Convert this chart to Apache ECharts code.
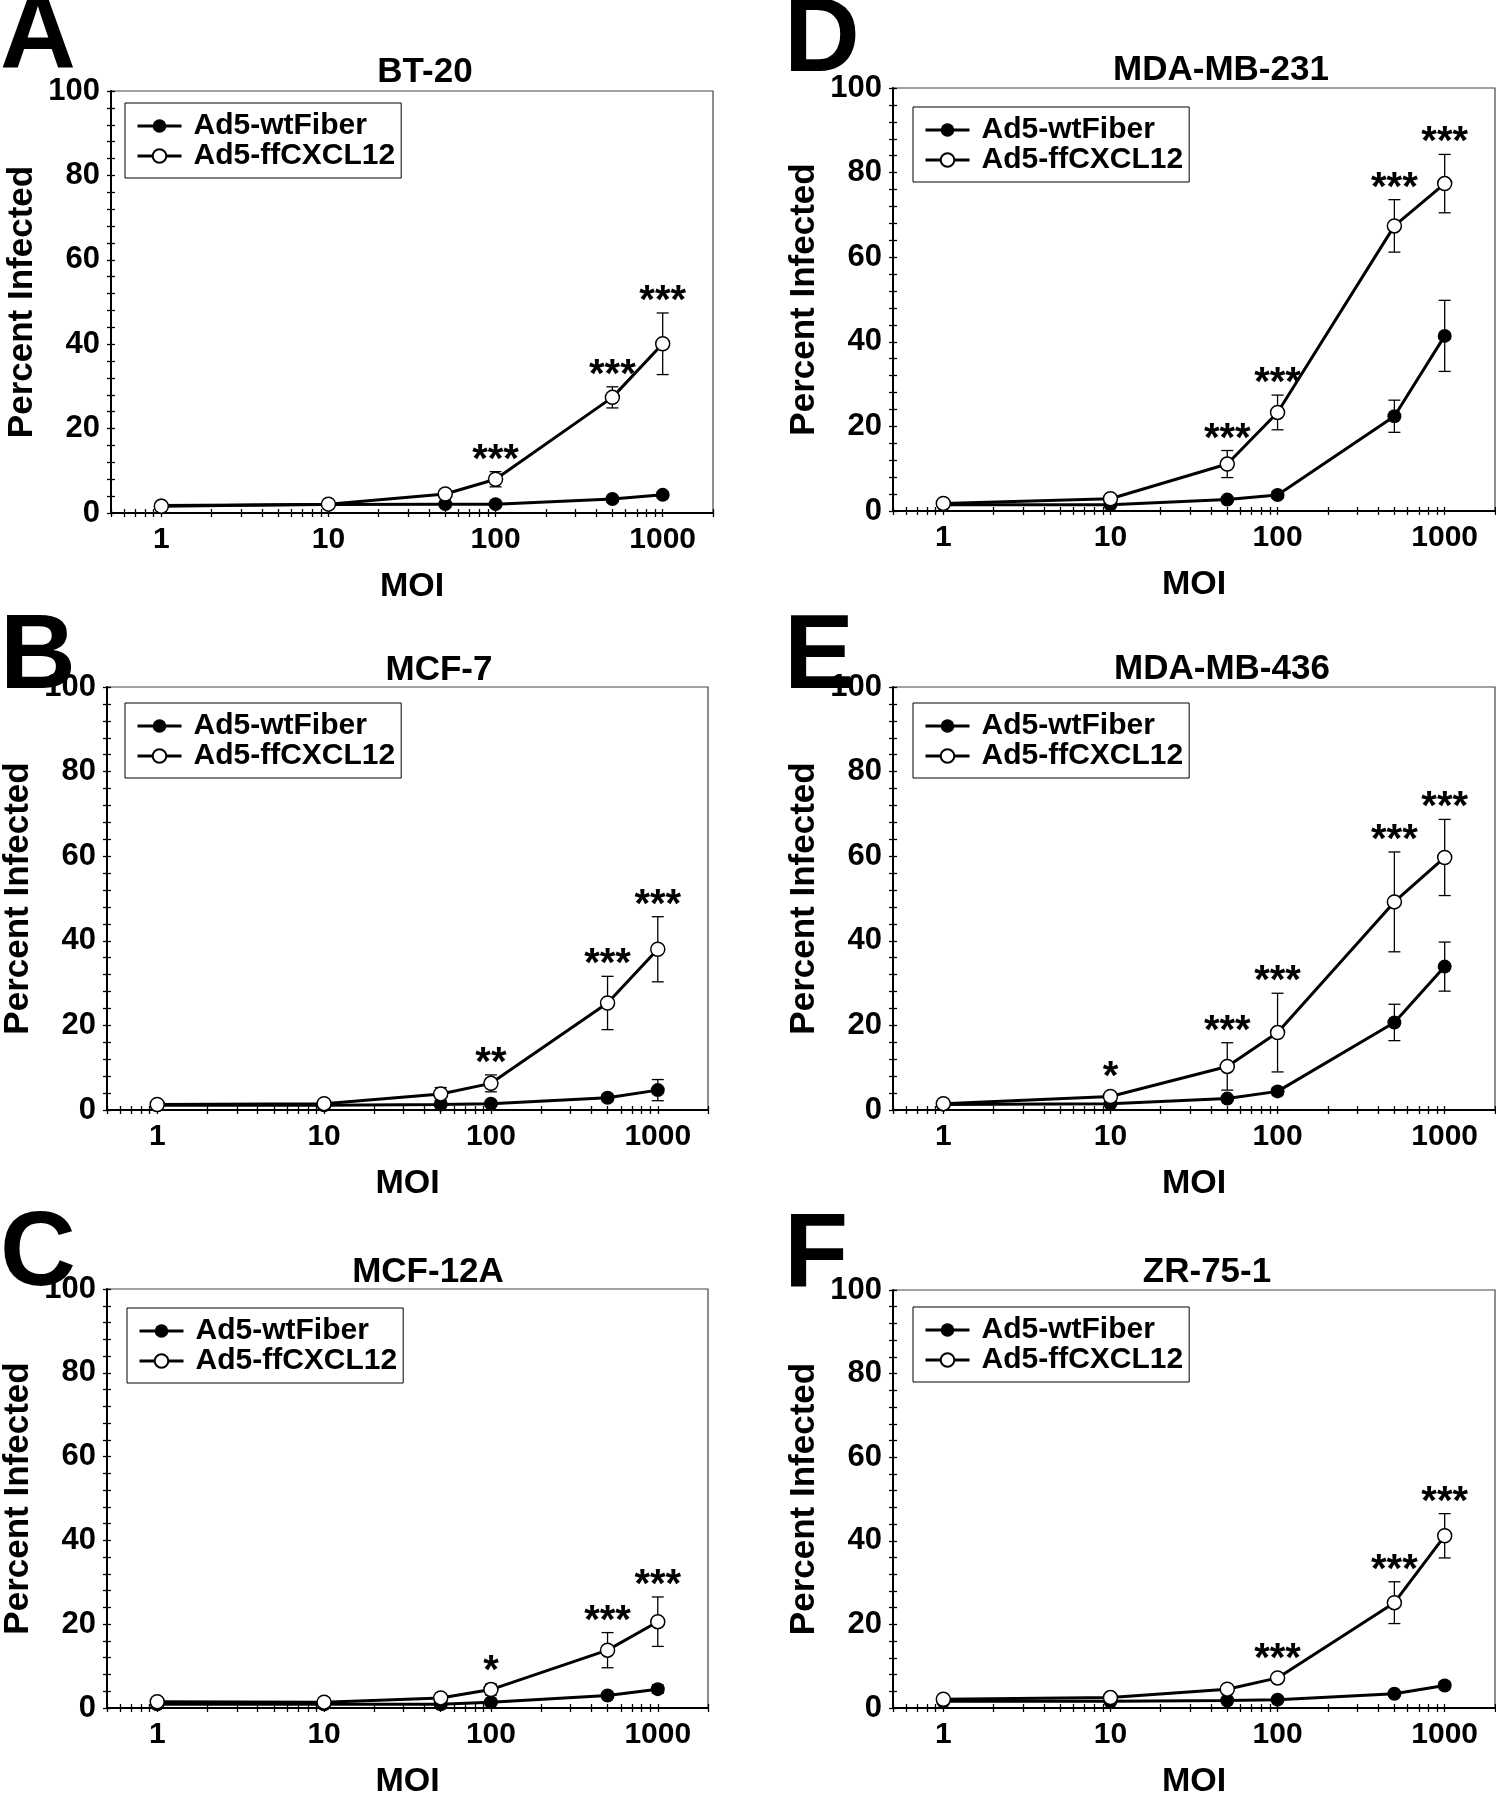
<!DOCTYPE html>
<html><head><meta charset="utf-8">
<script src="https://cdn.jsdelivr.net/npm/echarts@6/dist/echarts.min.js"></script>
<style>html,body{margin:0;padding:0;background:#fff}#c{width:1496px;height:1800px}</style>
</head><body><div id="c"></div>
<script>
// ---------- DATA ----------
const moi = [1, 10, 50, 100, 500, 1000];
const xTickValues = [0.5, 0.6, 0.7, 0.8, 0.9, 1, 2, 3, 4, 5, 6, 7, 8, 9, 10, 20, 30, 40, 50, 60, 70, 80, 90,
  100, 200, 300, 400, 500, 600, 700, 800, 900, 1000, 2000];
const xLabelValues = [1, 10, 100, 1000];
const panelLetters = ['A', 'B', 'C', 'D', 'E', 'F'];
const panelTitles = ['BT-20', 'MCF-7', 'MCF-12A', 'MDA-MB-231', 'MDA-MB-436', 'ZR-75-1'];
const seriesNames = ['Ad5-wtFiber', 'Ad5-ffCXCL12'];

// A: BT-20
const wtA = [1.8, 2.0, 2.1, 2.1, 3.3, 4.3];
const wtErrA = [0.3, 0.3, 0.4, 0.4, 0.6, 0.7];
const ffA = [1.6, 2.1, 4.5, 8.0, 27.4, 40.1];
const ffErrA = [0.3, 0.4, 0.8, 1.8, 2.5, 7.3];
const starsA = ['', '', '', '***', '***', '***'];
// B: MCF-7
const wtB = [1.1, 1.1, 1.3, 1.5, 2.9, 4.7];
const wtErrB = [0.3, 0.3, 0.3, 0.5, 0.8, 2.5];
const ffB = [1.3, 1.5, 3.8, 6.3, 25.3, 38.0];
const ffErrB = [0.3, 0.3, 1.5, 2.0, 6.3, 7.7];
const starsB = ['', '', '', '**', '***', '***'];
// C: MCF-12A
const wtC = [0.9, 0.9, 0.9, 1.4, 3.0, 4.5];
const wtErrC = [0.3, 0.3, 0.3, 0.5, 0.6, 1.0];
const ffC = [1.5, 1.4, 2.4, 4.4, 13.8, 20.6];
const ffErrC = [0.3, 0.3, 0.5, 1.3, 4.2, 5.9];
const starsC = ['', '', '', '*', '***', '***'];
// D: MDA-MB-231
const wtD = [1.5, 1.5, 2.7, 3.8, 22.4, 41.4];
const wtErrD = [0.3, 0.3, 0.5, 0.8, 3.8, 8.4];
const ffD = [1.8, 2.9, 11.1, 23.3, 67.4, 77.4];
const ffErrD = [0.3, 0.5, 3.2, 4.1, 6.2, 6.9];
const starsD = ['', '', '***', '***', '***', '***'];
// E: MDA-MB-436
const wtE = [1.3, 1.5, 2.7, 4.4, 20.7, 33.9];
const wtErrE = [0.3, 0.3, 0.5, 0.8, 4.3, 5.8];
const ffE = [1.5, 3.2, 10.3, 18.3, 49.2, 59.7];
const ffErrE = [0.3, 0.6, 5.6, 9.3, 11.8, 9.0];
const starsE = ['', '*', '***', '***', '***', '***'];
// F: ZR-75-1
const wtF = [1.6, 1.6, 1.8, 2.0, 3.4, 5.4];
const wtErrF = [0.3, 0.3, 0.3, 0.4, 0.6, 0.8];
const ffF = [2.1, 2.5, 4.5, 7.2, 25.2, 41.2];
const ffErrF = [0.3, 0.4, 0.6, 0.8, 5.0, 5.3];
const starsF = ['', '', '', '***', '***', '***'];

const panels = [
  { wt: wtA, wtErr: wtErrA, ff: ffA, ffErr: ffErrA, stars: starsA },
  { wt: wtB, wtErr: wtErrB, ff: ffB, ffErr: ffErrB, stars: starsB },
  { wt: wtC, wtErr: wtErrC, ff: ffC, ffErr: ffErrC, stars: starsC },
  { wt: wtD, wtErr: wtErrD, ff: ffD, ffErr: ffErrD, stars: starsD },
  { wt: wtE, wtErr: wtErrE, ff: ffE, ffErr: ffErrE, stars: starsE },
  { wt: wtF, wtErr: wtErrF, ff: ffF, ffErr: ffErrF, stars: starsF }
];

// ---------- LAYOUT ----------
const FONT = '"Liberation Sans", Arial, Helvetica, sans-serif';
const layout = {
  grids: [
    { left: 111, top: 91, width: 602, height: 422 },
    { left: 106, top: 687, width: 602, height: 423 },
    { left: 106, top: 1289, width: 602, height: 422 },
    { left: 893, top: 88, width: 602, height: 423 },
    { left: 893, top: 687, width: 602, height: 423 },
    { left: 893, top: 1290, width: 602, height: 423 }
  ],
  titles: [[425, 72], [439, 670], [428, 1272], [1221, 70], [1222, 669], [1207, 1272]],
  letters: [[0, 0], [0, 620], [0, 1217], [784, 3], [784, 620], [784, 1219]],
  legends: [[125, 103], [125, 703], [127, 1308], [913, 107], [913, 703], [913, 1307]]
};
const STAR_GAP = 11;

const option = {
  animation: false,
  backgroundColor: '#fff',
  textStyle: { fontFamily: FONT },
  title: [], legend: [], grid: [], xAxis: [], yAxis: [], series: []
};

function errRender(params, api) {
  const x = api.value(0), lo = api.value(1), hi = api.value(2);
  const pLo = api.coord([x, lo]);
  const pHi = api.coord([x, hi]);
  const hw = 6;
  const st = { stroke: '#000', lineWidth: 1.3 };
  return {
    type: 'group', children: [
      { type: 'line', shape: { x1: pHi[0], y1: pHi[1], x2: pLo[0], y2: pLo[1] }, style: st },
      { type: 'line', shape: { x1: pHi[0] - hw, y1: pHi[1], x2: pHi[0] + hw, y2: pHi[1] }, style: st },
      { type: 'line', shape: { x1: pLo[0] - hw, y1: pLo[1], x2: pLo[0] + hw, y2: pLo[1] }, style: st }
    ]
  };
}
function makeStarRender(stars) {
  return function (params, api) {
    const s = stars[params.dataIndex];
    if (!s) return null;
    const x = api.value(0), v = api.value(1), e = api.value(2);
    const pTop = api.coord([x, v + e]);
    const pMid = api.coord([x, v]);
    const y = Math.min(pTop[1], pMid[1] - 7) - STAR_GAP;
    return {
      type: 'text',
      style: {
        text: s, x: pTop[0], y: y, fill: '#000',
        font: 'bold 40px ' + FONT, textAlign: 'center', textVerticalAlign: 'middle'
      }
    };
  };
}

panels.forEach((p, i) => {
  const g = layout.grids[i];
  option.grid.push({ left: g.left, top: g.top, width: g.width, height: g.height,
    show: true, borderColor: '#444', borderWidth: 1.2, backgroundColor: 'transparent' });
  option.title.push({
    text: panelTitles[i], left: layout.titles[i][0], top: layout.titles[i][1] - 17,
    textAlign: 'center', padding: 0,
    textStyle: { fontSize: 35, fontWeight: 'bold', color: '#000', fontFamily: FONT }
  });
  option.title.push({
    text: panelLetters[i], left: layout.letters[i][0], top: layout.letters[i][1] - 13, padding: 0,
    textStyle: { fontSize: 105, fontWeight: 'bold', color: '#000', fontFamily: FONT }
  });
  option.legend.push({
    left: layout.legends[i][0], top: layout.legends[i][1], orient: 'vertical',
    data: seriesNames, selectedMode: false,
    itemWidth: 44, itemHeight: 17, itemGap: 0,
    padding: [8, 6, 7, 11],
    borderColor: '#000', borderWidth: 1,
    lineStyle: { width: 3 },
    textStyle: { fontSize: 30, fontWeight: 'bold', color: '#000', fontFamily: FONT, lineHeight: 27, padding: [0, 0, 0, 7] }
  });
  option.xAxis.push({
    type: 'log', logBase: 10, gridIndex: i, min: 0.5, max: 2000, position: 'bottom',
    name: 'MOI', nameLocation: 'middle', nameGap: 57,
    nameTextStyle: { fontSize: 34, fontWeight: 'bold', color: '#000', fontFamily: FONT },
    axisLine: { onZero: false, lineStyle: { color: '#000', width: 2 } },
    axisTick: { show: true, length: 4, customValues: xTickValues, lineStyle: { color: '#000', width: 1.3 } },
    axisLabel: { customValues: xLabelValues, margin: 12, fontSize: 30, fontWeight: 'bold', color: '#000',
      fontFamily: FONT, formatter: v => String(v) },
    splitLine: { show: false }, minorTick: { show: false }
  });
  option.xAxis.push({
    type: 'log', logBase: 10, gridIndex: i, min: 0.5, max: 2000, position: 'bottom',
    axisLine: { show: false, onZero: false },
    axisTick: { show: true, inside: true, length: 4, customValues: xTickValues, lineStyle: { color: '#000', width: 1.3 } },
    axisLabel: { show: false }, splitLine: { show: false }
  });
  option.yAxis.push({
    type: 'value', gridIndex: i, min: 0, max: 100, interval: 20, position: 'left',
    name: 'Percent Infected', nameLocation: 'middle', nameGap: 71,
    nameTextStyle: { fontSize: 35, fontWeight: 'bold', color: '#000', fontFamily: FONT },
    axisLine: { show: true, onZero: false, lineStyle: { color: '#000', width: 2 } },
    axisTick: { show: true, length: 4, lineStyle: { color: '#000', width: 1.3 } },
    minorTick: { show: true, splitNumber: 5, length: 4, lineStyle: { color: '#000', width: 1.3 } },
    axisLabel: { margin: 11, fontSize: 31, fontWeight: 'bold', color: '#000', fontFamily: FONT },
    splitLine: { show: false }
  });
  option.yAxis.push({
    type: 'value', gridIndex: i, min: 0, max: 100, interval: 20, position: 'left',
    axisLine: { show: false, onZero: false },
    axisTick: { show: true, inside: true, length: 4, lineStyle: { color: '#000', width: 1.3 } },
    minorTick: { show: true, splitNumber: 5, length: 4, lineStyle: { color: '#000', width: 1.3 } },
    axisLabel: { show: false }, splitLine: { show: false }
  });
  const xi = 2 * i, yi = 2 * i;
  option.series.push({
    type: 'custom', name: 'err-wt-' + i, xAxisIndex: xi, yAxisIndex: yi, z: 1,
    renderItem: errRender, encode: { x: 0, y: [1, 2] },
    data: moi.map((m, k) => [m, p.wt[k] - p.wtErr[k], p.wt[k] + p.wtErr[k]])
  });
  option.series.push({
    type: 'custom', name: 'err-ff-' + i, xAxisIndex: xi, yAxisIndex: yi, z: 1,
    renderItem: errRender, encode: { x: 0, y: [1, 2] },
    data: moi.map((m, k) => [m, p.ff[k] - p.ffErr[k], p.ff[k] + p.ffErr[k]])
  });
  option.series.push({
    type: 'line', name: seriesNames[0], xAxisIndex: xi, yAxisIndex: yi, z: 3,
    symbol: 'circle', symbolSize: 14, showSymbol: true,
    lineStyle: { color: '#000', width: 3 },
    itemStyle: { color: '#000', borderColor: '#000', borderWidth: 0 },
    data: moi.map((m, k) => [m, p.wt[k]])
  });
  option.series.push({
    type: 'line', name: seriesNames[1], xAxisIndex: xi, yAxisIndex: yi, z: 4,
    symbol: 'circle', symbolSize: 14, showSymbol: true,
    lineStyle: { color: '#000', width: 3 },
    itemStyle: { color: '#fff', borderColor: '#000', borderWidth: 1.5 },
    data: moi.map((m, k) => [m, p.ff[k]])
  });
  option.series.push({
    type: 'custom', name: 'stars-' + i, xAxisIndex: xi, yAxisIndex: yi, z: 5,
    renderItem: makeStarRender(p.stars), encode: { x: 0, y: 1 },
    data: moi.map((m, k) => [m, p.ff[k], p.ffErr[k]])
  });
});

const chart = echarts.init(document.getElementById('c'), null, { renderer: 'canvas' });
chart.setOption(option);
</script>
</body></html>
